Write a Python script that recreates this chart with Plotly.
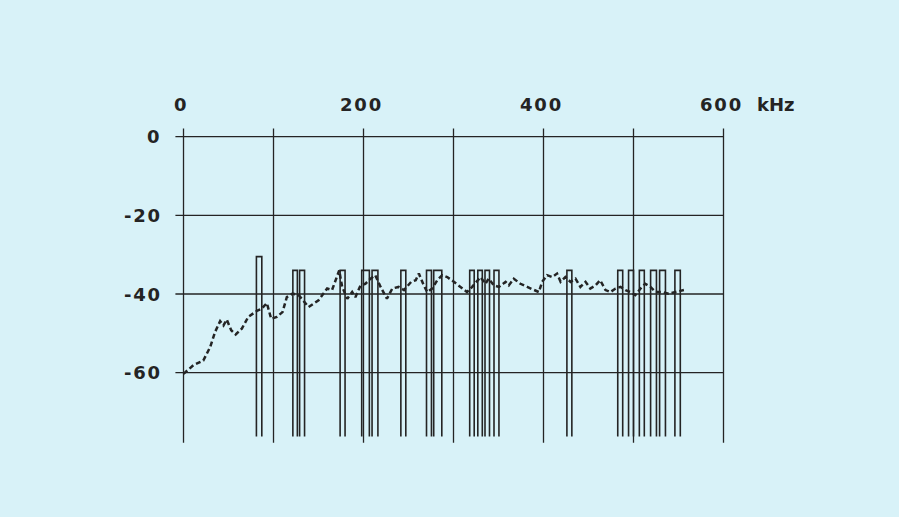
import plotly.graph_objects as go

# Frequency axis (kHz) and level axis (dB)
x_ticks = [0, 200, 400, 600]
x_tick_text = ["0", "200", "400", "600"]
x_grid = [0, 100, 200, 300, 400, 500, 600]
y_ticks = [0, -20, -40, -60]
y_tick_text = ["0", "-20", "-40", "-60"]
unit_label = "kHz"

# Carrier slots: left edge, right edge, top level (dB)
bar_left = [81, 121.5, 129, 174, 198, 209.5, 241.5, 270, 278, 318, 327, 335, 345,
            426, 482.5, 494.5, 506.5, 519, 529, 546]
bar_right = [87, 126.5, 134.5, 179.5, 206.5, 216, 247, 275.5, 287, 323, 332, 340, 350.5,
             431.5, 488, 500, 512, 525.5, 535.5, 552]
bar_top = [-30.5] + [-34] * 19
bar_floor = -76.2

# Measured noise level (dB) versus frequency (kHz)
noise_f = [0, 11, 22, 29.6, 35, 40.7, 44.4, 48, 53, 58, 64.8, 72, 81.5, 87, 92.6, 97.4,
           103.7, 110, 114.8, 121, 128, 139, 150, 159.6, 165, 169.4, 173, 176.3, 182,
           187.4, 191, 196.7, 202, 207.8, 213, 219, 226, 232, 239, 245, 253, 258,
           261.5, 267, 270.8, 276.3, 282, 287.4, 293, 300.4, 307.8, 315, 320.7, 326,
           330, 335.6, 339, 344.8, 350.4, 357.8, 361.5, 367, 374.4, 381.9, 389, 394.8,
           398.5, 404, 409.6, 415, 419, 424.4, 430, 435.6, 441, 446.7, 452, 457.8, 463,
           468.9, 474.4, 480, 485.6, 491, 496.7, 502, 507.8, 513, 518.9, 524.4, 531.9,
           539, 546.7, 556]
noise_db = [-60.3, -58.1, -56.9, -53.5, -49.7, -46.9, -48, -46.5, -49.2, -50.3, -48.8,
            -45.8, -44.3, -43.7, -42.3, -46.3, -45.8, -44.6, -40.8, -39.9, -40.3, -43.3,
            -41.6, -38.6, -39, -36.1, -34, -38.2, -41.2, -39.5, -40.8, -37.8, -37.4,
            -36.1, -35.2, -38.2, -41.2, -38.6, -38.2, -39, -36.9, -36.5, -34.8, -37.8,
            -39.5, -38.6, -36.5, -35.2, -35.7, -36.9, -38.2, -39.5, -38.2, -36.9, -35.7,
            -37.4, -36.1, -37.8, -38.2, -36.9, -37.8, -36.1, -37.4, -38.2, -39, -39.5,
            -36.9, -35.2, -35.7, -34.8, -36.9, -35.7, -36.9, -36.1, -38.2, -36.9, -38.6,
            -37.8, -36.5, -39, -39.5, -38.6, -38.2, -39, -39.5, -40.3, -38.6, -37.4,
            -38.2, -39.5, -39.5, -39.9, -39.5, -39]

INK = "#242424"
BG = "#d8f2f8"
FONT = dict(family="DejaVu Sans", size=18, color=INK)


def tracked(s):
    # widen the letter spacing of a label with hair spaces
    return "\u200a".join(s)


fig = go.Figure()

# Grid: vertical lines run a little above 0 dB and below the plotted range
grid_top, grid_bottom, grid_left = 2.1, -77.8, -9
gx, gy = [], []
for v in x_grid:
    gx += [v, v, None]
    gy += [grid_top, grid_bottom, None]
for v in y_ticks:
    gx += [grid_left, 600, None]
    gy += [v, v, None]
fig.add_trace(go.Scatter(x=gx, y=gy, mode="lines", line=dict(color=INK, width=1.3),
                         hoverinfo="skip", showlegend=False))

# Carrier slots as open rectangles
bx, by = [], []
for l, r, t in zip(bar_left, bar_right, bar_top):
    bx += [l, l, r, r, None]
    by += [bar_floor, t, t, bar_floor, None]
fig.add_trace(go.Scatter(x=bx, y=by, mode="lines", line=dict(color=INK, width=1.6),
                         hoverinfo="skip", showlegend=False))

# Noise curve
fig.add_trace(go.Scatter(x=noise_f, y=noise_db, mode="lines",
                         line=dict(color=INK, width=2.5, dash="5px,3px"),
                         hoverinfo="skip", showlegend=False))

# Tick labels
for v, t in zip(x_ticks, x_tick_text):
    fig.add_annotation(x=v, y=8.3, text="<b>%s</b>" % tracked(t), showarrow=False,
                       xanchor="center", yanchor="middle", xshift=-3, font=FONT)
fig.add_annotation(x=600, y=8.3, text="<b>%s</b>" % unit_label, showarrow=False,
                   xanchor="left", yanchor="middle", xshift=31, font=FONT)
for v, t in zip(y_ticks, y_tick_text):
    fig.add_annotation(x=-23.5, y=v, text="<b>%s</b>" % tracked(t), showarrow=False,
                       xanchor="right", yanchor="middle", font=FONT)

fig.update_layout(
    width=899, height=517,
    margin=dict(l=0, r=0, t=0, b=0),
    paper_bgcolor=BG, plot_bgcolor=BG,
    xaxis=dict(range=[-203.9, 795.0], visible=False, fixedrange=True),
    yaxis=dict(range=[-96.7, 34.76], visible=False, fixedrange=True),
)

fig.write_html("out.html")
